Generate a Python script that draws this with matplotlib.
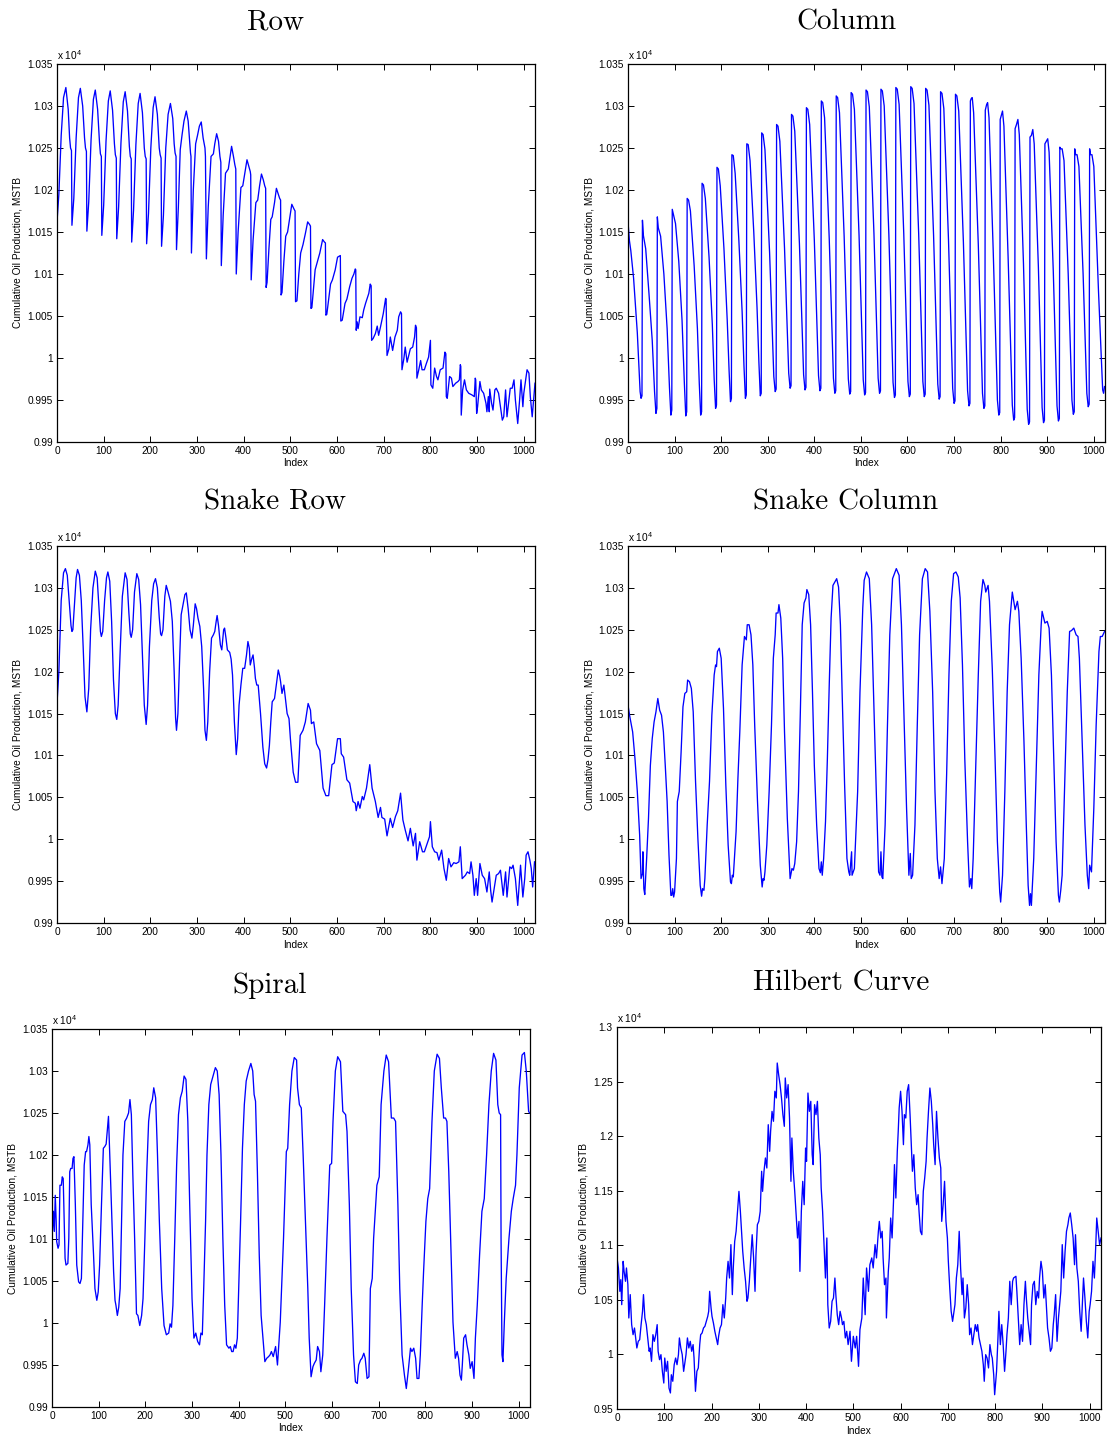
import matplotlib
matplotlib.use("Agg")
import matplotlib.pyplot as plt

plt.rcParams['font.family'] = ['Liberation Sans', 'DejaVu Sans']
plt.rcParams['mathtext.default'] = 'regular'

# ---------------- data (values in units of 1e4 MSTB) ----------------
titles = ["Row", "Column", "Snake Row", "Snake Column", "Spiral", "Hilbert Curve"]
x_ticks = [0, 100, 200, 300, 400, 500, 600, 700, 800, 900, 1000]
y_ticks_main = [0.99, 0.995, 1.0, 1.005, 1.01, 1.015, 1.02, 1.025, 1.03, 1.035]
y_ticks_hilbert = [0.95, 1.0, 1.05, 1.1, 1.15, 1.2, 1.25, 1.3]

row_points = [
    (0, 1.0162), (4, 1.0195), (9, 1.0265), (14, 1.0310), (19, 1.0322), (24, 1.0296), (27, 1.0262), (29, 1.0250), (31, 1.0247),
    (32, 1.0158), (36, 1.0190), (41, 1.0262), (46, 1.0310), (50, 1.0321), (55, 1.0300), (59, 1.0262), (61, 1.0250), (63, 1.0246),
    (64, 1.0151), (68, 1.0186), (73, 1.0260), (78, 1.0308), (82, 1.0319), (87, 1.0296), (91, 1.0257), (93, 1.0243), (95, 1.0240),
    (96, 1.0146), (100, 1.0182), (105, 1.0258), (110, 1.0306), (114, 1.0318), (119, 1.0295), (123, 1.0255), (125, 1.0242), (127, 1.0238),
    (128, 1.0142), (132, 1.0180), (137, 1.0256), (142, 1.0305), (146, 1.0317), (151, 1.0294), (155, 1.0252), (157, 1.0240), (159, 1.0237),
    (160, 1.0138), (164, 1.0176), (169, 1.0254), (174, 1.0303), (178, 1.0315), (183, 1.0292), (187, 1.0250), (189, 1.0240), (191, 1.0237),
    (192, 1.0136), (196, 1.0172), (201, 1.0250), (206, 1.0298), (210, 1.0311), (215, 1.0290), (219, 1.0250), (221, 1.0242), (223, 1.0238),
    (224, 1.0133), (228, 1.0170), (233, 1.0250), (238, 1.0290), (243, 1.0303), (248, 1.0285), (251, 1.0255), (253, 1.0244), (255, 1.0240),
    (256, 1.0129), (260, 1.0180), (264, 1.0248), (268, 1.0266), (272, 1.0282), (277, 1.0294), (281, 1.0282), (284, 1.0260), (286, 1.0244), (287, 1.0240),
    (288, 1.0125), (292, 1.0200), (297, 1.0255), (301, 1.0265), (305, 1.0276), (309, 1.0281), (313, 1.0262), (317, 1.0250), (318, 1.0240),
    (320, 1.0118), (324, 1.0180), (330, 1.0240), (335, 1.0243), (338, 1.0255), (342, 1.0267), (346, 1.0258), (349, 1.0240), (351, 1.0233),
    (352, 1.0110), (356, 1.0170), (361, 1.0220), (367, 1.0225), (371, 1.0240), (374, 1.0252), (378, 1.0240), (381, 1.0230), (383, 1.0225),
    (384, 1.0100), (388, 1.0150), (394, 1.0203), (398, 1.0205), (403, 1.0222), (407, 1.0236), (411, 1.0228), (414, 1.0222), (415, 1.0218),
    (416, 1.0093), (420, 1.0140), (426, 1.0185), (430, 1.0188), (434, 1.0205), (438, 1.0219), (442, 1.0212), (445, 1.0205), (447, 1.0202),
    (448, 1.0084), (450, 1.0090), (454, 1.0130), (458, 1.0165), (461, 1.0168), (466, 1.0185), (470, 1.0202), (474, 1.0195), (477, 1.0190), (479, 1.0188),
    (480, 1.0075), (482, 1.0078), (486, 1.0115), (490, 1.0145), (494, 1.0150), (499, 1.0168), (503, 1.0183), (508, 1.0177), (510, 1.0175),
    (511, 1.0067), (514, 1.0068), (518, 1.0100), (522, 1.0125), (527, 1.0135), (532, 1.0148), (537, 1.0162), (541, 1.0159), (543, 1.0157),
    (544, 1.0059), (546, 1.0060), (550, 1.0085), (553, 1.0105), (558, 1.0115), (563, 1.0125), (569, 1.0141), (573, 1.0138), (575, 1.0137),
    (576, 1.0051), (578, 1.0052), (582, 1.0070), (586, 1.0088), (590, 1.0093), (596, 1.0105), (601, 1.0120), (604, 1.0121), (607, 1.0122),
    (608, 1.0044), (611, 1.0045), (614, 1.0055), (617, 1.0065), (621, 1.0070), (627, 1.0085), (632, 1.0095), (636, 1.0100), (639, 1.0106), (640, 1.0105),
    (641, 1.0033), (643, 1.0043), (645, 1.0035), (649, 1.0049), (654, 1.0048), (657, 1.0057), (661, 1.0065), (668, 1.0077), (671, 1.0088), (673, 1.0086),
    (674, 1.0021), (677, 1.0023), (682, 1.0029), (686, 1.0038), (689, 1.0027), (693, 1.0037), (699, 1.0053), (704, 1.0071), (705, 1.0070),
    (707, 1.0003), (711, 1.0011), (714, 1.0025), (719, 1.0009), (724, 1.0025), (729, 1.0033), (732, 1.0049), (736, 1.0055), (738, 1.0053),
    (739, 0.9986), (743, 0.9999), (746, 1.0013), (750, 0.9995), (757, 1.0011), (762, 1.0013), (766, 1.0025), (768, 1.0039), (770, 1.0036),
    (771, 0.9976), (775, 0.9986), (779, 0.9997), (782, 0.9986), (787, 0.9986), (791, 0.9993), (796, 1.0001), (800, 1.0021),
    (801, 0.9968), (805, 0.9964), (809, 0.9988), (813, 0.9978), (816, 0.9974), (821, 0.9986), (827, 0.9988), (831, 1.0007), (833, 1.0005),
    (834, 0.9954), (836, 0.9952), (841, 0.9978), (845, 0.9976), (848, 0.9966), (854, 0.9970), (859, 0.9972), (862, 0.9974), (864, 0.9992), (865, 0.9990),
    (866, 0.9932), (869, 0.9962), (873, 0.9974), (877, 0.9962), (882, 0.9958), (889, 0.9956), (894, 0.9954), (896, 0.9976), (897, 0.9974),
    (899, 0.9934), (901, 0.9942), (906, 0.9972), (909, 0.9962), (914, 0.9958), (919, 0.9946), (921, 0.9936), (924, 0.9954), (926, 0.9936),
    (927, 0.9963), (931, 0.9946), (934, 0.9938), (938, 0.9962), (941, 0.9964), (946, 0.9958), (950, 0.9942), (954, 0.9926), (957, 0.9930),
    (961, 0.9962), (964, 0.9930), (968, 0.9950), (971, 0.9964), (975, 0.9964), (979, 0.9974), (982, 0.9950), (987, 0.9922), (991, 0.9950),
    (994, 0.9974), (998, 0.9942), (1000, 0.9958), (1004, 0.9974), (1007, 0.9986), (1011, 0.9982), (1014, 0.9954), (1018, 0.9930),
    (1021, 0.9950), (1024, 0.9970),
]

column_points = [
    (0, 1.0162), (3, 1.0140), (6, 1.0128), (12, 1.0095), (20, 1.0030), (26, 0.9960), (28, 0.9952), (30, 0.9955),
    (31, 1.0164), (33, 1.0146), (38, 1.0130), (45, 1.0077), (52, 1.0021), (57, 0.9960), (60, 0.9934), (62, 0.9940),
    (63, 1.0168), (65, 1.0155), (70, 1.0145), (77, 1.0100), (84, 1.0035), (89, 0.9965), (92, 0.9932), (94, 0.9938),
    (95, 1.0177), (97, 1.0172), (102, 1.0160), (109, 1.0115), (116, 1.0045), (121, 0.9970), (124, 0.9931), (126, 0.9936),
    (127, 1.0190), (130, 1.0188), (134, 1.0175), (142, 1.0110), (149, 1.0035), (153, 0.9970), (156, 0.9932), (158, 0.9936),
    (159, 1.0208), (162, 1.0206), (166, 1.0190), (174, 1.0120), (181, 1.0040), (185, 0.9975), (188, 0.9940), (190, 0.9944),
    (191, 1.0227), (194, 1.0225), (198, 1.0205), (206, 1.0130), (213, 1.0045), (217, 0.9985), (220, 0.9948), (222, 0.9952),
    (223, 1.0242), (226, 1.0241), (230, 1.0220), (238, 1.0140), (245, 1.0055), (249, 0.9990), (252, 0.9952), (254, 0.9956),
    (255, 1.0255), (258, 1.0254), (262, 1.0235), (270, 1.0150), (277, 1.0060), (281, 0.9995), (284, 0.9955), (286, 0.9958),
    (287, 1.0268), (290, 1.0266), (294, 1.0248), (304, 1.0125), (313, 0.9978), (316, 0.9960), (318, 0.9963),
    (319, 1.0278), (322, 1.0276), (326, 1.0258), (336, 1.0131), (345, 0.9982), (348, 0.9964), (350, 0.9967),
    (351, 1.0290), (354, 1.0288), (358, 1.0270), (368, 1.0136), (377, 0.9980), (380, 0.9962), (382, 0.9965),
    (383, 1.0298), (386, 1.0296), (390, 1.0278), (400, 1.0140), (409, 0.9979), (412, 0.9961), (414, 0.9964),
    (415, 1.0306), (418, 1.0304), (422, 1.0286), (432, 1.0142), (441, 0.9976), (444, 0.9958), (446, 0.9961),
    (447, 1.0312), (450, 1.0310), (454, 1.0292), (464, 1.0145), (473, 0.9975), (476, 0.9957), (478, 0.9960),
    (479, 1.0316), (482, 1.0314), (486, 1.0296), (496, 1.0146), (505, 0.9974), (508, 0.9956), (510, 0.9959),
    (511, 1.0319), (514, 1.0317), (518, 1.0299), (528, 1.0148), (537, 0.9976), (540, 0.9958), (542, 0.9961),
    (543, 1.0320), (546, 1.0318), (550, 1.0300), (560, 1.0147), (569, 0.9971), (572, 0.9953), (574, 0.9956),
    (575, 1.0322), (578, 1.0320), (582, 1.0302), (592, 1.0148), (601, 0.9972), (604, 0.9954), (606, 0.9957),
    (607, 1.0323), (610, 1.0321), (614, 1.0303), (624, 1.0148), (633, 0.9972), (636, 0.9954), (638, 0.9957),
    (639, 1.0321), (642, 1.0319), (646, 1.0301), (656, 1.0146), (665, 0.9969), (668, 0.9951), (670, 0.9954),
    (671, 1.0317), (674, 1.0315), (678, 1.0297), (688, 1.0141), (697, 0.9964), (700, 0.9946), (702, 0.9949),
    (703, 1.0314), (706, 1.0312), (710, 1.0294), (720, 1.0138), (729, 0.9961), (732, 0.9943), (734, 0.9946),
    (735, 1.0306), (737, 1.0309), (739, 1.0310), (742, 1.0292), (752, 1.0135), (761, 0.9958), (764, 0.9940), (766, 0.9943),
    (767, 1.0295), (770, 1.0302), (772, 1.0304), (775, 1.0286), (784, 1.0128), (793, 0.9950), (796, 0.9932), (798, 0.9935),
    (799, 1.0284), (802, 1.0290), (804, 1.0294), (807, 1.0276), (816, 1.0120), (825, 0.9944), (828, 0.9926), (830, 0.9929),
    (831, 1.0273), (834, 1.0278), (837, 1.0284), (840, 1.0266), (849, 1.0112), (857, 0.9939), (860, 0.9921), (862, 0.9924),
    (863, 1.0263), (866, 1.0265), (869, 1.0272), (872, 1.0255), (881, 1.0108), (889, 0.9941), (892, 0.9923), (894, 0.9926),
    (895, 1.0255), (898, 1.0258), (901, 1.0261), (904, 1.0245), (913, 1.0103), (921, 0.9943), (924, 0.9925), (926, 0.9928),
    (927, 1.0251), (929, 1.0249), (932, 1.0249), (936, 1.0235), (945, 1.0100), (953, 0.9950), (956, 0.9933), (958, 0.9936),
    (959, 1.0249), (961, 1.0242), (964, 1.0242), (968, 1.0228), (977, 1.0100), (985, 0.9958), (988, 0.9942), (990, 0.9945),
    (991, 1.0249), (993, 1.0242), (996, 1.0242), (1000, 1.0228), (1010, 1.0080), (1019, 0.9962), (1021, 0.9958), (1023, 0.9966),
]

snake_row_points = [
    (0, 1.0162), (4, 1.0200), (9, 1.0285), (14, 1.0318), (18, 1.0323), (22, 1.0315), (26, 1.0285), (30, 1.0255), (32, 1.0248),
    (34, 1.0250), (38, 1.0285), (41, 1.0312), (44, 1.0322), (48, 1.0315), (52, 1.0285), (56, 1.0230), (60, 1.0170), (64, 1.0152),
    (68, 1.0180), (72, 1.0250), (77, 1.0300), (82, 1.0320), (86, 1.0312), (90, 1.0275), (93, 1.0248), (95, 1.0242), (98, 1.0248),
    (102, 1.0285), (106, 1.0312), (109, 1.0319), (113, 1.0308), (117, 1.0260), (121, 1.0190), (125, 1.0150), (128, 1.0143),
    (131, 1.0160), (135, 1.0220), (140, 1.0290), (146, 1.0318), (150, 1.0310), (154, 1.0270), (157, 1.0245), (159, 1.0241),
    (162, 1.0250), (166, 1.0295), (171, 1.0317), (175, 1.0310), (179, 1.0280), (183, 1.0220), (187, 1.0160), (191, 1.0137),
    (194, 1.0160), (198, 1.0230), (203, 1.0285), (207, 1.0305), (211, 1.0311), (215, 1.0300), (219, 1.0265), (222, 1.0245),
    (224, 1.0243), (227, 1.0250), (231, 1.0290), (234, 1.0303), (238, 1.0295), (243, 1.0284), (247, 1.0260), (251, 1.0200),
    (254, 1.0145), (256, 1.0130), (259, 1.0150), (263, 1.0220), (266, 1.0268), (270, 1.0280), (274, 1.0292), (277, 1.0294),
    (281, 1.0275), (285, 1.0250), (289, 1.0240), (292, 1.0255), (296, 1.0281), (299, 1.0275), (302, 1.0264), (306, 1.0254),
    (310, 1.0230), (314, 1.0180), (317, 1.0130), (320, 1.0118), (323, 1.0140), (327, 1.0200), (331, 1.0240), (335, 1.0244),
    (338, 1.0248), (341, 1.0260), (343, 1.0267), (346, 1.0255), (350, 1.0232), (353, 1.0226), (357, 1.0250), (359, 1.0252),
    (362, 1.0240), (365, 1.0226), (370, 1.0223), (373, 1.0215), (376, 1.0196), (380, 1.0140), (384, 1.0101), (387, 1.0120),
    (390, 1.0160), (394, 1.0184), (398, 1.0204), (402, 1.0204), (406, 1.0220), (409, 1.0236), (412, 1.0228), (414, 1.0208),
    (417, 1.0215), (420, 1.0220), (423, 1.0205), (425, 1.0192), (428, 1.0184), (431, 1.0184), (436, 1.0150), (441, 1.0110),
    (445, 1.0090), (449, 1.0085), (452, 1.0095), (455, 1.0112), (458, 1.0140), (461, 1.0164), (466, 1.0168), (470, 1.0185),
    (474, 1.0202), (477, 1.0195), (479, 1.0188), (482, 1.0174), (486, 1.0184), (490, 1.0165), (493, 1.0150), (497, 1.0144),
    (500, 1.0120), (506, 1.0080), (511, 1.0068), (516, 1.0068), (521, 1.0124), (527, 1.0130), (532, 1.0140), (538, 1.0162),
    (543, 1.0154), (545, 1.0138), (550, 1.0140), (556, 1.0114), (563, 1.0106), (570, 1.0061), (576, 1.0052), (582, 1.0052),
    (589, 1.0089), (594, 1.0091), (601, 1.0120), (607, 1.0120), (609, 1.0102), (614, 1.0098), (621, 1.0071), (627, 1.0067),
    (634, 1.0045), (639, 1.0043), (641, 1.0034), (645, 1.0045), (649, 1.0037), (654, 1.0051), (657, 1.0047), (663, 1.0061),
    (670, 1.0089), (675, 1.0061), (682, 1.0045), (688, 1.0026), (693, 1.0038), (696, 1.0026), (702, 1.0024), (707, 1.0004),
    (714, 1.0025), (719, 1.0014), (725, 1.0027), (730, 1.0034), (736, 1.0055), (741, 1.0023), (746, 1.0011), (752, 0.9998),
    (757, 1.0013), (763, 0.9992), (768, 1.0007), (771, 0.9975), (777, 0.9997), (783, 0.9985), (787, 0.9985), (793, 0.9995),
    (798, 1.0003), (800, 1.0021), (804, 0.9991), (809, 0.9985), (814, 0.9984), (818, 0.9975), (824, 0.9987), (829, 0.9965),
    (834, 0.9951), (839, 0.9977), (844, 0.9967), (850, 0.9972), (855, 0.9971), (861, 0.9973), (864, 0.9991), (868, 0.9953),
    (875, 0.9957), (879, 0.9961), (884, 0.9959), (887, 0.9973), (891, 0.9957), (894, 0.9933), (898, 0.9953), (901, 0.9933),
    (906, 0.9971), (911, 0.9957), (916, 0.9953), (921, 0.9937), (926, 0.9961), (929, 0.9939), (932, 0.9925), (937, 0.9943),
    (941, 0.9957), (946, 0.9959), (950, 0.9963), (956, 0.9933), (961, 0.9961), (964, 0.9931), (970, 0.9967), (974, 0.9965),
    (977, 0.9969), (982, 0.9953), (987, 0.9921), (993, 0.9969), (998, 0.9931), (1002, 0.9953), (1005, 0.9981), (1009, 0.9985),
    (1013, 0.9975), (1016, 0.9965), (1019, 0.9943), (1023, 0.9973),
]

snake_column_points = [
    (0, 1.0160), (4, 1.0146), (10, 1.0128), (15, 1.0096), (20, 1.0057), (25, 1.0005), (28, 0.9953), (31, 0.9959), (32, 0.9985),
    (34, 0.9941), (36, 0.9934), (40, 0.9977), (44, 1.0025), (48, 1.0088), (52, 1.0120), (56, 1.0140), (60, 1.0152), (64, 1.0168),
    (68, 1.0154), (72, 1.0148), (76, 1.0128), (80, 1.0088), (84, 1.0045), (88, 0.9981), (92, 0.9933), (94, 0.9933), (96, 0.9941),
    (98, 0.9931), (100, 0.9937), (104, 0.9977), (106, 1.0045), (110, 1.0057), (114, 1.0104), (118, 1.0158), (122, 1.0174),
    (126, 1.0176), (128, 1.0190), (132, 1.0188), (136, 1.0180), (140, 1.0152), (145, 1.0069), (150, 1.0001), (155, 0.9945),
    (158, 0.9932), (160, 0.9941), (163, 0.9939), (165, 0.9953), (170, 1.0017), (175, 1.0069), (180, 1.0148), (185, 1.0196),
    (188, 1.0208), (190, 1.0206), (192, 1.0224), (196, 1.0228), (200, 1.0216), (205, 1.0156), (210, 1.0065), (215, 0.9993),
    (220, 0.9949), (222, 0.9947), (224, 0.9957), (226, 0.9955), (228, 0.9973), (232, 1.0009), (236, 1.0073), (240, 1.0128),
    (245, 1.0208), (250, 1.0242), (254, 1.0238), (256, 1.0256), (260, 1.0256), (264, 1.0244), (268, 1.0208), (272, 1.0136),
    (278, 1.0045), (284, 0.9969), (288, 0.9943), (290, 0.9953), (292, 0.9951), (294, 0.9961), (298, 0.9993), (303, 1.0057),
    (308, 1.0136), (312, 1.0216), (316, 1.0244), (318, 1.0270), (322, 1.0270), (324, 1.0280), (328, 1.0264), (332, 1.0216),
    (336, 1.0128), (342, 1.0025), (348, 0.9953), (352, 0.9965), (355, 0.9963), (358, 0.9971), (362, 0.9997), (366, 1.0057),
    (370, 1.0152), (374, 1.0256), (378, 1.0282), (382, 1.0288), (384, 1.0298), (388, 1.0292), (392, 1.0256), (396, 1.0176),
    (400, 1.0088), (405, 1.0017), (410, 0.9965), (413, 0.9960), (415, 0.9973), (417, 0.9957), (420, 0.9977), (424, 1.0021),
    (428, 1.0096), (432, 1.0184), (436, 1.0264), (440, 1.0303), (444, 1.0307), (448, 1.0311), (452, 1.0301), (456, 1.0256),
    (460, 1.0168), (465, 1.0065), (470, 0.9977), (474, 0.9961), (476, 0.9957), (480, 0.9985), (481, 0.9957), (486, 0.9965),
    (493, 1.0057), (498, 1.0176), (504, 1.0276), (507, 1.0309), (512, 1.0319), (518, 1.0311), (523, 1.0256), (529, 1.0136),
    (534, 1.0037), (538, 0.9961), (541, 0.9957), (543, 0.9985), (545, 0.9955), (547, 0.9953), (552, 1.0017), (557, 1.0136),
    (562, 1.0244), (568, 1.0311), (576, 1.0323), (582, 1.0315), (587, 1.0256), (593, 1.0136), (598, 1.0037), (603, 0.9957),
    (606, 0.9983), (608, 0.9953), (611, 0.9957), (616, 1.0017), (621, 1.0136), (626, 1.0244), (632, 1.0311), (638, 1.0323),
    (643, 1.0319), (648, 1.0272), (654, 1.0176), (659, 1.0057), (664, 0.9977), (668, 0.9953), (671, 0.9967), (674, 0.9947),
    (679, 0.9977), (684, 1.0077), (689, 1.0196), (694, 1.0284), (699, 1.0317), (704, 1.0319), (709, 1.0313), (713, 1.0288),
    (718, 1.0208), (723, 1.0096), (729, 0.9997), (733, 0.9943), (736, 0.9953), (738, 0.9941), (741, 0.9977), (746, 1.0077),
    (752, 1.0196), (757, 1.0284), (762, 1.0310), (766, 1.0303), (768, 1.0295), (773, 1.0303), (776, 1.0284), (782, 1.0204),
    (788, 1.0096), (793, 0.9997), (798, 0.9937), (800, 0.9925), (804, 0.9957), (809, 1.0057), (814, 1.0176), (819, 1.0256),
    (825, 1.0295), (831, 1.0274), (836, 1.0284), (839, 1.0272), (844, 1.0216), (850, 1.0117), (855, 1.0017), (859, 0.9945),
    (862, 0.9921), (864, 0.9935), (866, 0.9921), (871, 0.9977), (876, 1.0077), (882, 1.0196), (887, 1.0256), (889, 1.0272),
    (895, 1.0258), (900, 1.0260), (904, 1.0252), (909, 1.0196), (914, 1.0096), (919, 0.9997), (924, 0.9933), (926, 0.9925),
    (929, 0.9939), (932, 0.9957), (937, 1.0057), (943, 1.0176), (948, 1.0248), (952, 1.0249), (957, 1.0252), (962, 1.0244),
    (966, 1.0242), (969, 1.0216), (975, 1.0116), (981, 1.0017), (986, 0.9957), (989, 0.9941), (991, 0.9969), (995, 0.9961),
    (1000, 1.0037), (1005, 1.0136), (1011, 1.0224), (1014, 1.0242), (1018, 1.0242), (1023, 1.0248),
]

spiral_points = [
    (0, 1.0133), (1, 1.0109), (3, 1.0133), (5, 1.0109), (7, 1.0152), (9, 1.0121), (10, 1.0097), (13, 1.0089), (15, 1.0093),
    (17, 1.0164), (20, 1.0164), (22, 1.0174), (24, 1.0172), (26, 1.0125), (28, 1.0077), (30, 1.0069), (34, 1.0071), (36, 1.0101),
    (38, 1.0180), (40, 1.0184), (43, 1.0184), (45, 1.0196), (47, 1.0198), (50, 1.0141), (53, 1.0069), (57, 1.0049), (60, 1.0047),
    (63, 1.0053), (66, 1.0121), (69, 1.0188), (72, 1.0204), (74, 1.0204), (77, 1.0212), (79, 1.0222), (81, 1.0212), (84, 1.0141),
    (89, 1.0081), (92, 1.0041), (96, 1.0027), (99, 1.0037), (102, 1.0069), (106, 1.0141), (110, 1.0208), (113, 1.0210),
    (116, 1.0213), (119, 1.0232), (121, 1.0246), (123, 1.0212), (127, 1.0141), (132, 1.0061), (135, 1.0027), (137, 1.0021),
    (140, 1.0009), (143, 1.0019), (146, 1.0041), (149, 1.0121), (152, 1.0200), (156, 1.0240), (160, 1.0244), (164, 1.0250),
    (167, 1.0266), (170, 1.0248), (173, 1.0180), (177, 1.0101), (181, 1.0011), (184, 1.0009), (188, 0.9997), (192, 1.0009),
    (195, 1.0029), (199, 1.0101), (203, 1.0180), (207, 1.0240), (211, 1.0260), (215, 1.0266), (218, 1.0280), (222, 1.0268),
    (226, 1.0200), (230, 1.0121), (235, 1.0041), (240, 0.9997), (245, 0.9986), (250, 0.9988), (253, 0.9999), (256, 0.9995),
    (259, 1.0021), (263, 1.0101), (267, 1.0188), (271, 1.0248), (275, 1.0268), (279, 1.0276), (283, 1.0294), (287, 1.0290),
    (291, 1.0240), (295, 1.0141), (300, 1.0029), (304, 0.9982), (308, 0.9988), (312, 0.9978), (316, 0.9974), (319, 0.9988),
    (322, 0.9986), (325, 1.0041), (329, 1.0121), (332, 1.0200), (336, 1.0260), (340, 1.0284), (345, 1.0294), (350, 1.0304),
    (354, 1.0300), (358, 1.0272), (362, 1.0200), (366, 1.0101), (370, 1.0021), (374, 0.9974), (379, 0.9970), (382, 0.9972),
    (385, 0.9966), (388, 0.9966), (391, 0.9974), (394, 0.9970), (397, 0.9982), (400, 1.0041), (404, 1.0121), (408, 1.0208),
    (412, 1.0260), (416, 1.0288), (421, 1.0300), (426, 1.0309), (430, 1.0300), (433, 1.0272), (436, 1.0264), (440, 1.0180),
    (444, 1.0081), (448, 1.0009), (452, 0.9982), (456, 0.9954), (460, 0.9958), (464, 0.9960), (467, 0.9962), (470, 0.9966),
    (474, 0.9960), (479, 0.9972), (483, 0.9950), (489, 1.0001), (496, 1.0101), (502, 1.0204), (505, 1.0208), (509, 1.0260),
    (514, 1.0300), (519, 1.0316), (524, 1.0313), (526, 1.0280), (530, 1.0260), (534, 1.0256), (538, 1.0200), (543, 1.0121),
    (548, 1.0041), (551, 0.9982), (555, 0.9936), (559, 0.9948), (562, 0.9952), (566, 0.9956), (569, 0.9972), (573, 0.9966),
    (576, 0.9942), (580, 0.9962), (584, 1.0021), (589, 1.0101), (595, 1.0188), (599, 1.0190), (602, 1.0240), (607, 1.0300),
    (612, 1.0317), (618, 1.0311), (623, 1.0252), (629, 1.0248), (632, 1.0228), (637, 1.0141), (641, 1.0041), (646, 0.9962),
    (650, 0.9930), (654, 0.9928), (657, 0.9950), (661, 0.9956), (664, 0.9958), (668, 0.9964), (671, 0.9958), (675, 0.9934),
    (679, 0.9936), (682, 1.0041), (686, 1.0053), (689, 1.0101), (696, 1.0164), (701, 1.0174), (705, 1.0260), (711, 1.0300),
    (716, 1.0319), (721, 1.0311), (727, 1.0244), (732, 1.0244), (736, 1.0240), (741, 1.0141), (745, 1.0041), (750, 0.9962),
    (755, 0.9938), (759, 0.9922), (763, 0.9942), (768, 0.9970), (771, 0.9966), (775, 0.9970), (779, 0.9958), (782, 0.9934),
    (786, 0.9934), (789, 0.9962), (793, 1.0021), (796, 1.0061), (801, 1.0121), (805, 1.0148), (809, 1.0160), (814, 1.0240),
    (819, 1.0300), (825, 1.0320), (830, 1.0315), (834, 1.0280), (839, 1.0244), (843, 1.0244), (846, 1.0240), (850, 1.0180),
    (855, 1.0081), (859, 1.0001), (864, 0.9958), (868, 0.9966), (871, 0.9958), (874, 0.9938), (877, 0.9932), (879, 0.9950),
    (882, 0.9982), (886, 0.9986), (889, 0.9974), (893, 0.9962), (896, 0.9946), (900, 0.9954), (904, 0.9934), (907, 0.9982),
    (911, 1.0021), (916, 1.0081), (921, 1.0133), (926, 1.0148), (931, 1.0200), (936, 1.0260), (941, 1.0300), (946, 1.0321),
    (951, 1.0313), (955, 1.0260), (958, 1.0250), (961, 1.0248), (962, 1.0101), (964, 0.9962), (966, 0.9954), (969, 1.0001),
    (973, 1.0053), (979, 1.0101), (984, 1.0133), (988, 1.0148), (993, 1.0164), (996, 1.0200), (1001, 1.0280), (1007, 1.0319),
    (1012, 1.0322), (1016, 1.0300), (1021, 1.0252), (1023, 1.0250),
]

hilbert_points = [
    (0, 1.0884), (3, 1.0792), (6, 1.0578), (8, 1.0685), (10, 1.0456), (13, 1.0853), (15, 1.0761), (18, 1.0670), (20, 1.0792),
    (23, 1.0639), (25, 1.0334), (28, 1.0548), (31, 1.0273), (34, 1.0181), (37, 1.0242), (39, 1.0166), (42, 1.0059), (45, 1.0120),
    (48, 1.0135), (51, 1.0273), (54, 1.0395), (56, 1.0548), (59, 1.0334), (62, 1.0273), (65, 1.0151), (68, 1.0029), (70, 1.0059),
    (73, 0.9937), (76, 1.0181), (79, 1.0120), (82, 1.0181), (85, 1.0273), (87, 1.0029), (90, 0.9952), (93, 0.9998), (96, 0.9845),
    (99, 0.9738), (101, 0.9967), (104, 0.9845), (107, 0.9937), (110, 0.9692), (113, 0.9647), (115, 0.9814), (118, 0.9754),
    (121, 0.9906), (124, 0.9967), (127, 0.9906), (130, 0.9998), (132, 1.0151), (135, 1.0059), (138, 0.9998), (141, 0.9845),
    (144, 0.9937), (146, 0.9998), (149, 1.0151), (152, 1.0059), (155, 1.0120), (158, 1.0029), (161, 1.0090), (163, 0.9967),
    (166, 0.9662), (169, 0.9845), (172, 0.9876), (175, 1.0090), (177, 1.0181), (180, 1.0196), (183, 1.0242), (186, 1.0258),
    (189, 1.0303), (192, 1.0349), (194, 1.0395), (196, 1.0578), (199, 1.0426), (201, 1.0349), (204, 1.0288), (207, 1.0212),
    (210, 1.0151), (213, 1.0090), (215, 1.0166), (218, 1.0242), (221, 1.0273), (224, 1.0456), (227, 1.0334), (230, 1.0517),
    (232, 1.0700), (235, 1.0853), (238, 1.0700), (241, 1.1006), (244, 1.0548), (246, 1.0792), (249, 1.1036), (252, 1.1128),
    (254, 1.1250), (258, 1.1494), (261, 1.1311), (263, 1.1158), (266, 1.0945), (269, 1.0792), (272, 1.0670), (275, 1.0487),
    (277, 1.0517), (280, 1.0670), (283, 1.0884), (286, 1.1097), (289, 1.0884), (292, 1.0578), (294, 1.0914), (297, 1.1189),
    (300, 1.1219), (303, 1.1311), (306, 1.1678), (308, 1.1494), (311, 1.1678), (314, 1.1800), (317, 1.1708), (320, 1.2105),
    (323, 1.1861), (325, 1.2044), (328, 1.2227), (331, 1.2136), (334, 1.2411), (337, 1.2350), (339, 1.2670), (342, 1.2563),
    (345, 1.2472), (348, 1.2350), (351, 1.2197), (354, 1.2090), (356, 1.2533), (359, 1.2350), (362, 1.2472), (365, 1.2166),
    (368, 1.1586), (370, 1.1983), (373, 1.1678), (376, 1.1494), (379, 1.1281), (382, 1.1067), (385, 1.1219), (387, 1.0761),
    (390, 1.1311), (393, 1.1586), (396, 1.1372), (399, 1.1891), (401, 1.1769), (404, 1.2395), (407, 1.2227), (410, 1.2319),
    (413, 1.1830), (415, 1.1739), (418, 1.2288), (421, 1.2197), (424, 1.2319), (427, 1.1983), (430, 1.1830), (432, 1.1525),
    (435, 1.1311), (438, 1.1006), (441, 1.0700), (444, 1.1067), (446, 1.0456), (449, 1.0242), (452, 1.0303), (455, 1.0487),
    (458, 1.0517), (461, 1.0700), (463, 1.0548), (466, 1.0364), (469, 1.0273), (472, 1.0395), (475, 1.0334), (477, 1.0273),
    (480, 1.0303), (483, 1.0151), (486, 1.0212), (489, 1.0090), (493, 1.0212), (496, 0.9937), (500, 1.0166), (504, 1.0059),
    (507, 1.0166), (511, 0.9891), (514, 1.0227), (518, 1.0334), (521, 1.0700), (525, 1.0364), (528, 1.0792), (532, 1.0578),
    (535, 1.0822), (539, 1.0884), (542, 1.0792), (546, 1.1006), (549, 1.0884), (553, 1.1128), (555, 1.1219), (558, 1.1067),
    (561, 1.1128), (563, 1.0884), (566, 1.0639), (569, 1.0700), (570, 1.0334), (574, 1.0761), (576, 1.0884), (579, 1.1250),
    (582, 1.1067), (585, 1.1403), (587, 1.1739), (590, 1.1433), (593, 1.1861), (595, 1.2044), (597, 1.2258), (600, 1.2411),
    (603, 1.2227), (606, 1.1922), (608, 1.2197), (611, 1.2166), (614, 1.2411), (617, 1.2472), (620, 1.2197), (623, 1.1891),
    (625, 1.1678), (628, 1.1830), (631, 1.1525), (634, 1.1372), (637, 1.1464), (639, 1.1311), (642, 1.1128), (645, 1.1097),
    (648, 1.1494), (651, 1.1617), (654, 1.1769), (656, 1.1983), (659, 1.2227), (662, 1.2441), (665, 1.2319), (668, 1.2105),
    (670, 1.1922), (673, 1.1739), (676, 1.2227), (679, 1.1983), (682, 1.1800), (685, 1.1708), (687, 1.1219), (690, 1.1372),
    (693, 1.1586), (696, 1.1219), (699, 1.1067), (701, 1.0853), (704, 1.0608), (707, 1.0395), (710, 1.0303), (713, 1.0395),
    (715, 1.0456), (718, 1.0700), (721, 1.0822), (724, 1.1128), (727, 1.0792), (730, 1.0548), (732, 1.0700), (735, 1.0334),
    (738, 1.0426), (741, 1.0639), (744, 1.0456), (746, 1.0181), (749, 1.0242), (752, 1.0090), (755, 1.0181), (758, 1.0273),
    (761, 1.0212), (763, 1.0273), (766, 1.0151), (769, 1.0090), (772, 1.0029), (775, 0.9906), (777, 0.9754), (780, 0.9998),
    (783, 0.9967), (786, 0.9876), (789, 1.0090), (792, 0.9998), (794, 0.9967), (797, 0.9814), (799, 0.9631), (803, 0.9845),
    (806, 1.0151), (808, 1.0395), (811, 1.0090), (814, 1.0273), (817, 1.0090), (820, 0.9845), (823, 1.0029), (825, 1.0181),
    (828, 1.0334), (831, 1.0670), (834, 1.0456), (837, 1.0670), (839, 1.0700), (844, 1.0716), (846, 1.0578), (849, 1.0334),
    (852, 1.0090), (855, 1.0273), (858, 1.0120), (861, 1.0456), (864, 1.0670), (866, 1.0517), (869, 1.0334), (872, 1.0212),
    (875, 1.0090), (877, 1.0456), (880, 1.0639), (883, 1.0670), (886, 1.0456), (889, 1.0578), (892, 1.0517), (894, 1.0700),
    (897, 1.0853), (900, 1.0761), (903, 1.0517), (906, 1.0639), (908, 1.0487), (911, 1.0242), (914, 1.0151), (917, 1.0029),
    (920, 1.0059), (923, 1.0273), (925, 1.0364), (928, 1.0548), (931, 1.0120), (934, 1.0334), (937, 1.0487), (939, 1.0578),
    (942, 1.1006), (945, 1.0700), (948, 1.0945), (951, 1.1128), (954, 1.1189), (956, 1.1250), (959, 1.1296), (962, 1.1189),
    (965, 1.1067), (968, 1.0822), (970, 1.1097), (973, 1.0792), (976, 1.0670), (979, 1.0395), (982, 1.0212), (985, 1.0517),
    (987, 1.0700), (990, 1.0517), (993, 1.0303), (996, 1.0151), (999, 1.0395), (1001, 1.0456), (1004, 1.0578), (1007, 1.0853),
    (1010, 1.0700), (1013, 1.1006), (1015, 1.1250), (1018, 1.1128), (1021, 1.1006), (1024, 1.1067),
]

panel_points = [row_points, column_points, snake_row_points, snake_column_points, spiral_points, hilbert_points]

# ---------------- layout (pixels) ----------------
W, H = 1113, 1439
fig = plt.figure(figsize=(W / 100, H / 100), dpi=100)

# (left, right, top, bottom) of each axes box
boxes = [(57, 535, 64, 442), (628, 1105, 64, 442),
         (57, 535, 546, 923), (628, 1105, 546, 923),
         (52, 530, 1029, 1407), (617, 1101, 1027, 1409)]
title_pos = [(275, 22), (846, 22), (275, 502), (846, 502), (270, 986), (841, 983)]
ylabel_x = [18, 589, 18, 589, 13, 584]
xlabel_y = [463, 463, 945, 945, 1428, 1431]

label_fs = 7.3
for i in range(6):
    l, r, t, b = boxes[i]
    ax = fig.add_axes([l / W, 1 - b / H, (r - l) / W, (b - t) / H])
    pts = panel_points[i]
    xs = [p[0] for p in pts]
    ys = [p[1] for p in pts]
    ax.plot(xs, ys, color='#0000ff', lw=0.95)
    ax.set_xlim(0, 1024)
    ax.set_xticks(x_ticks)
    ax.set_xticklabels([str(v) for v in x_ticks])
    if i == 5:
        yt = y_ticks_hilbert
        ax.set_ylim(0.95, 1.3)
    else:
        yt = y_ticks_main
        ax.set_ylim(0.99, 1.035)
    ax.set_yticks(yt)
    ax.set_yticklabels(['%g' % v for v in yt])
    ax.tick_params(direction='in', top=True, right=True, length=4, width=0.7,
                   labelsize=label_fs, pad=3)
    for s in ax.spines.values():
        s.set_linewidth(0.9)
    ax.set_xlabel('Index', fontsize=label_fs)
    ax.xaxis.set_label_coords(0.5, -(xlabel_y[i] - b) / (b - t))
    ax.xaxis.label.set_va('center')
    ax.set_ylabel('Cumulative Oil Production, MSTB', fontsize=label_fs)
    ax.yaxis.set_label_coords((ylabel_x[i] - l) / (r - l), 0.5)
    ax.yaxis.label.set_va('center')
    ax.text(0.0, 1.006, r'x 10$^{4}$', transform=ax.transAxes, fontsize=label_fs,
            ha='left', va='bottom')
    tx, ty = title_pos[i]
    fig.text(tx / W, 1 - ty / H, titles[i], ha='center', va='center',
             fontsize=21, family='cmr10')

fig.savefig('out.png', dpi=100)
